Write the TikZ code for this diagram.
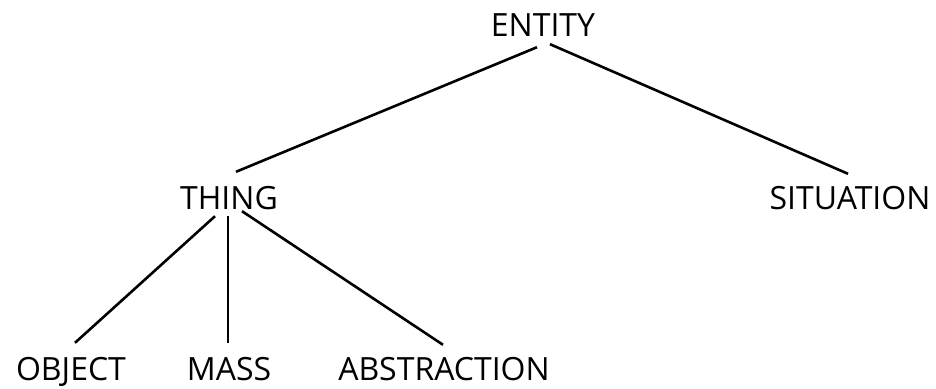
\documentclass[tikz,border=0pt]{standalone}
\usepackage{fontspec}
\setmainfont{Open Sans}
\begin{document}
\begin{tikzpicture}[x=1pt,y=1pt,
  lbl/.style={inner sep=0pt, anchor=base, text height=21pt, text depth=0pt, font=\fontsize{32}{32}\selectfont},
  edge/.style={line width=2.6pt}]
\useasboundingbox (0,0) rectangle (936,-388);
\node[lbl] (e) at (543,-36) {ENTITY};
\node[lbl] (t) at (229,-209) {THING};
\node[lbl] (s) at (850,-209) {SITUATION};
\node[lbl] (o) at (71,-380) {OBJECT};
\node[lbl] (m) at (229,-380) {MASS};
\node[lbl] (a) at (444,-380) {ABSTRACTION};
\draw[edge] ([shift={(-6,-11)}]e.south) -- ([shift={(7,16)}]t.north);
\draw[edge] ([shift={(7,-8)}]e.south) -- ([shift={(-2,14)}]s.north);
\draw[edge] ([shift={(-14,-7)}]t.south) -- ([shift={(4,16)}]o.north);
\draw[edge] ([shift={(-1,-7)}]t.south) -- ([shift={(-1,16)}]m.north);
\draw[edge] ([shift={(13,-2)}]t.south) -- ([shift={(-1,14)}]a.north);
\end{tikzpicture}
\end{document}
